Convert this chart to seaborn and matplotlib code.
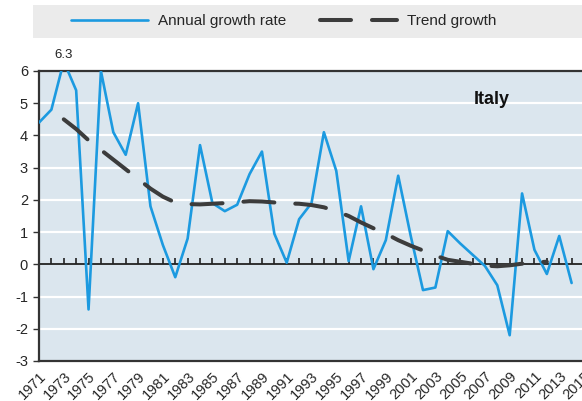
import numpy as np
import pandas as pd
import seaborn as sns
import matplotlib.pyplot as plt
from matplotlib.patches import Rectangle
from matplotlib.lines import Line2D

# Italy: annual GDP growth vs trend growth (%)
years = list(range(1971, 2015))
annual = [4.4, 4.8, 6.3, 5.4, -1.4, 6.0, 4.1, 3.4, 5.0, 1.8,
          0.6, -0.4, 0.8, 3.7, 1.9, 1.65, 1.85, 2.8, 3.5, 0.95,
          0.05, 1.4, 1.9, 4.1, 2.9, 0.1, 1.8, -0.15, 0.75, 2.75,
          0.9, -0.8, -0.72, 1.03, 0.65, 0.3, -0.05, -0.65, -2.2, 2.2,
          0.45, -0.3, 0.88, -0.58]
trend_years = list(range(1973, 2013))
trend = [4.5, 4.2, 3.85, 3.55, 3.25, 2.95, 2.65, 2.35, 2.1, 1.92,
         1.87, 1.86, 1.88, 1.9, 1.93, 1.96, 1.95, 1.92, 1.89, 1.88,
         1.84, 1.77, 1.65, 1.5, 1.3, 1.12, 0.95, 0.75, 0.58, 0.43,
         0.27, 0.14, 0.08, 0.02, -0.04, -0.06, -0.03, 0.02, 0.06, 0.08]
label_years = list(range(1971, 2016, 2))

BLUE = '#1c9ae0'
DARK = '#3c3c3c'

sns.set_style("white")
plt.rcParams['font.family'] = ['Liberation Sans', 'DejaVu Sans']
plt.rcParams['axes.unicode_minus'] = False

df_a = pd.DataFrame({'year': years, 'growth': annual})
df_t = pd.DataFrame({'year': trend_years, 'growth': trend})

fig = plt.figure(figsize=(5.82, 4.01), dpi=100)
ax = fig.add_axes([39 / 582, 40 / 401, 545 / 582, 290 / 401])
ax.set_facecolor('#dbe6ee')

for v in range(-2, 6):
    if v != 0:
        ax.axhline(v, color='white', lw=1.6, zorder=1)

sns.lineplot(data=df_a, x='year', y='growth', ax=ax, color=BLUE, lw=1.9, zorder=3)
sns.lineplot(data=df_t, x='year', y='growth', ax=ax, color=DARK, lw=2.9,
             linestyle=(0, (7.7, 5.2)), dash_capstyle='round', zorder=4)

ax.set_xlim(1971, 2015)
ax.set_ylim(-3, 6)
ax.set_xlabel('')
ax.set_ylabel('')

ax.set_yticks(range(-3, 7))
ax.set_yticklabels([str(v) for v in range(-3, 7)], fontsize=10.5)
ax.set_xticks(label_years)
ax.set_xticklabels([str(y) for y in label_years], rotation=45, ha='right',
                   rotation_mode='anchor', fontsize=10.5)
ax.tick_params(axis='x', length=0, pad=6)
ax.tick_params(axis='y', length=4, width=1, color='#333333', pad=4, left=True)

for side in ['top', 'left', 'bottom', 'right']:
    ax.spines[side].set_color('#333333')
    ax.spines[side].set_linewidth(1.6)

# zero line with small year ticks pointing up
zero = ax.secondary_xaxis(3 / 9)
zero.set_xticks(years[1:])
zero.set_xticklabels([])
zero.tick_params(direction='in', length=4, width=1.2, color='#222222')
zero.spines['bottom'].set_color('#222222')
zero.spines['bottom'].set_linewidth(1.3)
zero.spines['top'].set_visible(False)

ax.text(0.83, 0.9, 'Italy', transform=ax.transAxes, fontsize=13,
        fontweight='bold', ha='center', va='center', color='#111111')
ax.annotate('6.3', xy=(1973, 6), xytext=(0, 7), textcoords='offset points',
            ha='center', va='bottom', fontsize=9.5, color='#222222',
            annotation_clip=False)

# legend band
fig.add_artist(Rectangle((33 / 582, 1 - 38 / 401), 549 / 582, 33 / 401,
                         transform=fig.transFigure, facecolor='#ebebeb',
                         edgecolor='none', zorder=0))
handles = [Line2D([], [], color=BLUE, lw=1.9),
           Line2D([], [], color=DARK, lw=2.9, linestyle=(0, (7.7, 5.2)),
                  dash_capstyle='round')]
fig.legend(handles, ['Annual growth rate', 'Trend growth'], loc='center',
           bbox_to_anchor=(284 / 582, 1 - 21.5 / 401), ncol=2, frameon=False,
           handlelength=5.0, handletextpad=0.7, columnspacing=2.2,
           prop={'family': ['Liberation Sans'], 'size': 11})

fig.savefig('out.png', dpi=100)
